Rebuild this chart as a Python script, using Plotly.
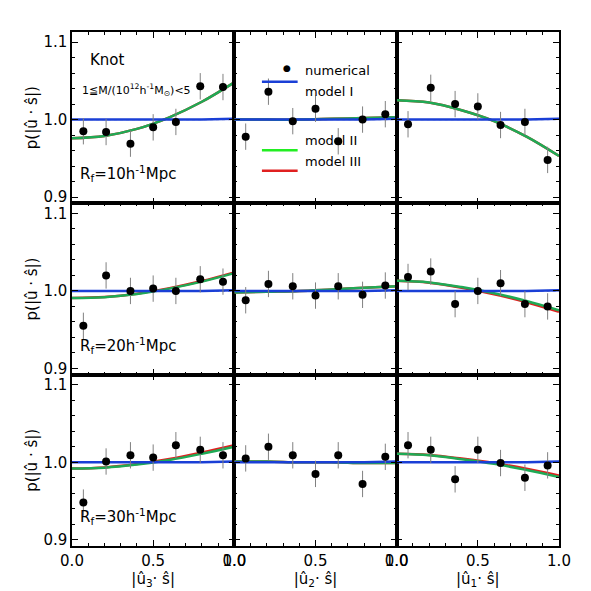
import plotly.graph_objects as go
from plotly.subplots import make_subplots

# measured points (same x bins in every panel)
x_pts = [0.07, 0.21, 0.36, 0.5, 0.64, 0.79, 0.93]
y_pts = [
    [[0.985, 0.984, 0.969, 0.990, 0.997, 1.043, 1.042],
     [0.978, 1.036, 0.998, 1.014, 0.972, 1.000, 1.007],
     [0.994, 1.041, 1.020, 1.017, 0.993, 0.997, 0.948]],
    [[0.955, 1.020, 1.000, 1.003, 1.000, 1.015, 1.012],
     [0.988, 1.009, 1.006, 0.994, 1.006, 0.995, 1.007],
     [1.018, 1.025, 0.983, 1.000, 1.010, 0.983, 0.980]],
    [[0.948, 1.001, 1.009, 1.006, 1.022, 1.016, 1.009],
     [1.005, 1.020, 1.009, 0.985, 1.009, 0.972, 1.007],
     [1.022, 1.016, 0.978, 1.016, 0.999, 0.980, 0.996]],
]
y_err = 0.017

# model curves
x_mod = [0.0, 0.2, 0.4, 0.6, 0.8, 1.0]
model2 = [
    [[0.976, 0.979, 0.988, 1.003, 1.023, 1.048],
     [1.000, 1.000, 1.000, 1.001, 1.002, 1.003],
     [1.025, 1.022, 1.012, 0.998, 0.978, 0.953]],
    [[0.991, 0.992, 0.996, 1.003, 1.012, 1.023],
     [0.998, 0.999, 1.000, 1.002, 1.004, 1.006],
     [1.013, 1.011, 1.005, 0.997, 0.987, 0.975]],
    [[0.992, 0.993, 0.997, 1.003, 1.011, 1.020],
     [1.001, 1.001, 1.000, 1.000, 0.999, 0.999],
     [1.011, 1.009, 1.004, 0.998, 0.990, 0.981]],
]
model3_shift = [[0.0, 0.0, 0.0], [0.001, 0.0, -0.002], [0.002, 0.0, 0.002]]
model1 = [1.0, 1.0, 1.0, 1.0, 1.0, 1.001]

radii = ["10", "20", "30"]
x_titles = ["|û<sub>3</sub>· ŝ|", "|û<sub>2</sub>· ŝ|", "|û<sub>1</sub>· ŝ|"]

fig = make_subplots(rows=3, cols=3, horizontal_spacing=0, vertical_spacing=0,
                    shared_xaxes=True, shared_yaxes=True)

for r in range(3):
    for c in range(3):
        m3 = [v + model3_shift[r][c] * (i / 5) for i, v in enumerate(model2[r][c])]
        fig.add_trace(go.Scatter(x=x_mod, y=[1.0] * len(x_mod), mode='lines',
                                 line=dict(color='rgb(40,40,160)', width=1, dash='dot'),
                                 showlegend=False), row=r + 1, col=c + 1)
        fig.add_trace(go.Scatter(x=x_mod, y=m3, mode='lines', line=dict(color='#e02020', width=2.5),
                                 line_shape='spline', showlegend=False), row=r + 1, col=c + 1)
        fig.add_trace(go.Scatter(x=x_mod, y=model2[r][c], mode='lines',
                                 line=dict(color='#1faa55', width=2.5), line_shape='spline',
                                 showlegend=False), row=r + 1, col=c + 1)
        fig.add_trace(go.Scatter(x=x_mod, y=model1, mode='lines',
                                 line=dict(color='#1a3fd6', width=2.5), showlegend=False),
                      row=r + 1, col=c + 1)
        fig.add_trace(go.Scatter(x=x_pts, y=y_pts[r][c], mode='markers',
                                 marker=dict(color='black', size=8),
                                 error_y=dict(type='constant', value=y_err, color='gray',
                                              thickness=1, width=0),
                                 showlegend=False), row=r + 1, col=c + 1)

axis_common = dict(showline=True, linecolor='black', linewidth=1.5, mirror='ticks', ticks='inside',
                   tickcolor='black', ticklen=6, showgrid=False, zeroline=False,
                   tickfont=dict(size=15, color='black', family='DejaVu Sans'),
                   minor=dict(ticks='inside', ticklen=3, tickcolor='black'))
fig.update_xaxes(range=[0, 1], tickvals=[0, 0.5, 1], ticktext=['0.0', '0.5', '1.0'],
                 minor_dtick=0.1, **axis_common)
fig.update_yaxes(range=[0.892, 1.113], tickvals=[0.9, 1.0, 1.1], ticktext=['0.9', '1.0', '1.1'],
                 minor_dtick=0.02, **axis_common)
for c in range(3):
    fig.update_xaxes(title=dict(text=x_titles[c], font=dict(size=15, color='black'), standoff=2),
                     row=3, col=c + 1)
for r in range(3):
    fig.update_yaxes(title=dict(text="p(|û · ŝ|)", font=dict(size=15, color='black'), standoff=2),
                     row=r + 1, col=1)
    fig.add_annotation(text="R<sub>f</sub>=%sh<sup>-1</sup>Mpc" % radii[r], xref='x%s domain' % (r * 3 + 1 if r else ''),
                       yref='y%s domain' % (r * 3 + 1 if r else ''), x=0.04, y=0.1,
                       xanchor='left', yanchor='bottom', showarrow=False,
                       font=dict(size=15, color='black'))

fig.add_annotation(text="Knot", xref='x domain', yref='y domain', x=0.1, y=0.9, xanchor='left',
                   showarrow=False, font=dict(size=15, color='black'))
fig.add_annotation(text="1≦M/(10<sup>12</sup>h<sup>-1</sup>M<sub>⊙</sub>)<5", xref='x domain', yref='y domain',
                   x=0.05, y=0.72, xanchor='left', showarrow=False, font=dict(size=11, color='black'))

# legend drawn in the top middle panel
leg = [("numerical", 0.83, None), ("model I", 0.71, '#1a3fd6'),
       ("model II", 0.31, '#22ee22'), ("model III", 0.19, '#e02020')]
for name, yy, col in leg:
    fig.add_annotation(text=name, xref='x2 domain', yref='y2 domain', x=0.42, y=yy, xanchor='left',
                       showarrow=False, font=dict(size=13, color='black'))
    if col:
        fig.add_shape(type='line', xref='x2 domain', yref='y2 domain', x0=0.17, x1=0.39, y0=yy, y1=yy,
                      line=dict(color=col, width=2.5))
    else:
        fig.add_annotation(text="●", xref='x2 domain', yref='y2 domain', x=0.285, y=yy,
                           showarrow=False, font=dict(size=9, color='black'))

fig.update_layout(width=591, height=591, plot_bgcolor='white', paper_bgcolor='white',
                  margin=dict(l=64, r=40, t=24, b=53), font=dict(family='DejaVu Sans'))
fig.write_html("out.html")
